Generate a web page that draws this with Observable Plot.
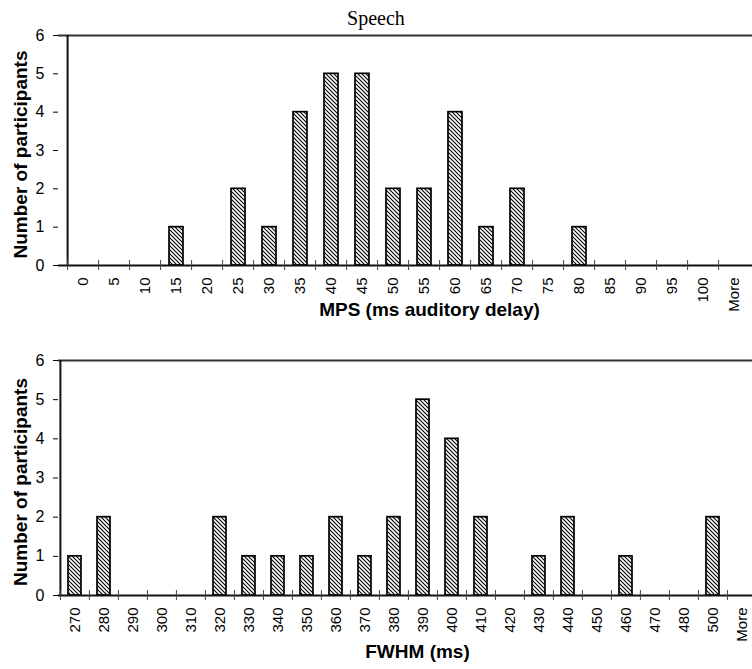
<!DOCTYPE html>
<html><head><meta charset="utf-8">
<script src="https://cdn.jsdelivr.net/npm/d3@7"></script>
<script src="https://cdn.jsdelivr.net/npm/@observablehq/plot@0.6"></script>
<style>
html,body{margin:0;padding:0;background:white;overflow:hidden;}
body{width:752px;height:669px;}
#title{position:relative;top:6px;height:24px;line-height:24px;text-align:center;font-family:"Liberation Serif","Times New Roman",serif;font-size:20px;color:#000;width:752px;}
svg.plot{display:block;}
</style></head><body>
<svg width="0" height="0" style="position:absolute"><defs>
<pattern id="hatch" patternUnits="userSpaceOnUse" width="4" height="4">
<rect width="4" height="4" fill="white"/>
<path d="M-1,-1L5,5M-1,3L1,5M3,-1L5,1" stroke="black" stroke-width="1.1"/>
</pattern></defs></svg>
<div id="title">Speech</div>
<div id="c1"></div>
<div id="c2"></div>
<script>
const titleText = "Speech";
const yLabel = "Number of participants";
const yTicks = [0, 1, 2, 3, 4, 5, 6];

const mpsLabel = "MPS (ms auditory delay)";
const mpsBins = ["0","5","10","15","20","25","30","35","40","45","50","55","60","65","70","75","80","85","90","95","100","More"];
const mpsCounts = [0,0,0,1,0,2,1,4,5,5,2,2,4,1,2,0,1,0,0,0,0,0];

const fwhmLabel = "FWHM (ms)";
const fwhmBins = ["270","280","290","300","310","320","330","340","350","360","370","380","390","400","410","420","430","440","450","460","470","480","500","More"];
const fwhmCounts = [1,2,0,0,0,2,1,1,1,2,1,2,5,4,2,0,1,2,0,1,0,0,2,0];

const W = 752, ML = 58, MR = -6;

function chart({bins, counts, xLabel, height, marginTop, marginBottom, labelDx, labelDy}) {
  const data = bins.map((bin, i) => ({bin, count: counts[i]}));
  const step = (W - ML - MR) / bins.length;
  return Plot.plot({
    width: W, height, marginLeft: ML, marginRight: MR, marginTop, marginBottom,
    style: {fontFamily: '"Liberation Sans", Arial, sans-serif', fontSize: "15px", color: "black", background: "transparent"},
    x: {type: "band", domain: bins, paddingInner: 0.56, paddingOuter: 0.28},
    y: {domain: [0, 6]},
    marks: [
      Plot.barY(data.filter(d => d.count > 0), {x: "bin", y: "count", fill: "url(#hatch)", stroke: "black", strokeWidth: 1.7}),
      Plot.ruleY([0], {stroke: "#111", strokeWidth: 2}),
      Plot.ruleY([6], {stroke: "#333", strokeWidth: 2}),
      Plot.ruleX([bins[0]], {dx: -step / 2, stroke: "#111", strokeWidth: 2}),
      Plot.axisY({ticks: yTicks, tickFormat: d => String(d), tickSize: 5, tickPadding: 9, label: null, fontSize: 16}),
      Plot.axisX({tickSize: 10, dx: -step / 2, dy: -5, tickFormat: () => "", label: null, stroke: "#444"}),
      Plot.axisX({tickSize: 0, tickPadding: 12, tickRotate: -90, label: null, fontSize: 15}),
      Plot.text([yLabel], {frameAnchor: "left", rotate: -90, dx: -38, dy: 4, textAnchor: "middle", lineAnchor: "middle", fontWeight: "bold", fontSize: 19}),
      Plot.text([xLabel], {frameAnchor: "bottom", dx: labelDx, dy: labelDy, textAnchor: "middle", lineAnchor: "bottom", fontWeight: "bold", fontSize: 19})
    ]
  });
}

document.getElementById("title").textContent = titleText;
document.getElementById("c1").append(chart({bins: mpsBins, counts: mpsCounts, xLabel: mpsLabel, height: 296, marginTop: 11, marginBottom: 55, labelDx: 21, labelDy: 50}));
document.getElementById("c2").append(chart({bins: fwhmBins, counts: fwhmCounts, xLabel: fwhmLabel, height: 349, marginTop: 40, marginBottom: 74, labelDx: 9, labelDy: 62}));
</script>
</body></html>
